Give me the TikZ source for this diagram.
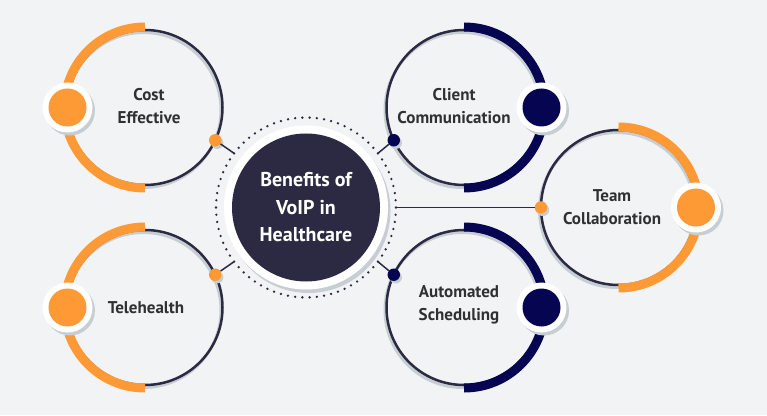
\documentclass[tikz,border=0pt]{standalone}
\usepackage{fontspec}
\setmainfont{PT Sans}
\definecolor{bg}{HTML}{F2F3F5}
\definecolor{orng}{HTML}{FD9A36}
\definecolor{navy}{HTML}{050552}
\definecolor{ink}{HTML}{2B2A42}
\definecolor{shd}{HTML}{C6CED3}
\definecolor{txt}{HTML}{303030}
\tikzset{
  thinline/.style={draw=ink, line width=2.5},
  shadowline/.style={draw=shd, line width=3},
  conn/.style={draw=ink, line width=1.5},
  smalldot/.style={circle, inner sep=0, minimum size=12.5},
  lab/.style={text=txt, align=center, font=\bfseries\fontsize{17}{23}\selectfont},
  centlab/.style={text=white, align=center, font=\bfseries\fontsize{20}{27.5}\selectfont},
}
% #1 name, #2 x, #3 y, #4 colour, #5 0 = accent on left, 180 = accent on right
\newcommand{\bencircle}[5]{%
  \coordinate (#1) at (#2,#3);
  \draw[shadowline] ([shift={(-1.5,-2.5)}]#1) circle (77.5);
  \draw[thinline] (#1) circle (77.5);
  \draw[line width=9, draw=#4] ([shift={(#5+90:80.5)}]#1) arc (#5+90:#5+270:80.5);
  \fill[shd] ([shift={(#5+180:77.5)}]#1) ++(2.5,-3) circle (25);
  \fill[white] ([shift={(#5+180:77.5)}]#1) circle (25);
  \fill[#4] ([shift={(#5+180:77.5)}]#1) circle (19);
}
\begin{document}
\begin{tikzpicture}[x=1pt,y=1pt]
\fill[bg] (0,0) rectangle (767,415);
\useasboundingbox (0,0) rectangle (767,415);

% centre
\coordinate (cen) at (306,207.5);
\fill[shd] ([shift={(2.5,-3.5)}]cen) circle (82);
\fill[white] (cen) circle (82);
\fill[ink] (cen) circle (74);
\draw[ink, line width=2.6, line cap=round, dash pattern=on 0pt off 7.25pt] (cen) circle (90);
\node[centlab] (ct) at (cen) {Benefits of\\VoIP in\\Healthcare};

% ring end points
\coordinate (e1) at ([shift={(143:90)}]cen);
\coordinate (e2) at ([shift={(217:90)}]cen);
\coordinate (e3) at ([shift={(37:90)}]cen);
\coordinate (e4) at ([shift={(-37:90)}]cen);
\coordinate (e5) at ([shift={(0:90)}]cen);

% benefit circles
\bencircle{c1}{145}{307.5}{orng}{0}
\bencircle{c2}{145}{107.5}{orng}{0}
\bencircle{c3}{464}{307.5}{navy}{180}
\bencircle{c4}{464}{107.5}{navy}{180}
\bencircle{c5}{618.5}{207.5}{orng}{180}

% small dots
\fill[shd] ([shift={(-25:77.5)}]c1) ++(2,-2.5) circle (6.2);
\node[smalldot, fill=orng] (d1) at ([shift={(-25:77.5)}]c1) {};
\fill[shd] ([shift={(25:77.5)}]c2) ++(2,-2.5) circle (6.2);
\node[smalldot, fill=orng] (d2) at ([shift={(25:77.5)}]c2) {};
\fill[shd] ([shift={(205:77.5)}]c3) ++(2,-2.5) circle (6.2);
\node[smalldot, fill=navy] (d3) at ([shift={(205:77.5)}]c3) {};
\fill[shd] ([shift={(155:77.5)}]c4) ++(2,-2.5) circle (6.2);
\node[smalldot, fill=navy] (d4) at ([shift={(155:77.5)}]c4) {};
\fill[shd] ([shift={(180:77.5)}]c5) ++(2,-2.5) circle (6.2);
\node[smalldot, fill=orng] (d5) at ([shift={(180:77.5)}]c5) {};

% connectors
\draw[conn] (d1) -- (e1);
\draw[conn] (d2) -- (e2);
\draw[conn] (d3) -- (e3);
\draw[conn] (d4) -- (e4);
\draw[conn] (d5) -- (e5);

% labels
\node[lab] (t1) at (149,308.5) {Cost\\Effective};
\node[lab] (t2) at (146,107) {Telehealth};
\node[lab] (t3) at (454,309) {Client\\Communication};
\node[lab] (t4) at (459,110) {Automated\\Scheduling};
\node[lab] (t5) at (612,207.5) {Team\\Collaboration};
\end{tikzpicture}
\end{document}
